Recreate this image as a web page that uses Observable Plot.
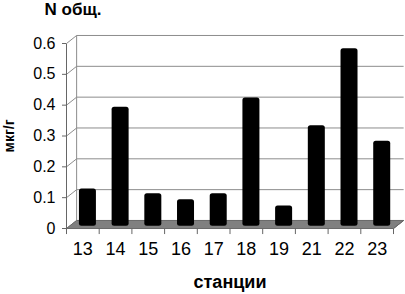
<!DOCTYPE html>
<html>
<head>
<meta charset="utf-8">
<script src="https://cdn.jsdelivr.net/npm/d3@7"></script>
<script src="https://cdn.jsdelivr.net/npm/@observablehq/plot@0.6"></script>
<style>
  html, body { margin: 0; padding: 0; background: #fff; }
  #chart svg { display: block; }
</style>
</head>
<body>
<div id="chart"></div>
<script>
const stations = ["13", "14", "15", "16", "17", "18", "19", "21", "22", "23"];
const values = [0.115, 0.38, 0.10, 0.08, 0.10, 0.41, 0.06, 0.32, 0.57, 0.27];
const yTicks = [0, 0.1, 0.2, 0.3, 0.4, 0.5, 0.6];
const title = "N общ.";
const yTitle = "мкг/г";
const xTitle = "станции";

// 3D depth offset expressed in data units (x: categories, y: value)
const DX = 0.31;
const DY = 0.026;
const n = stations.length;

const bars = stations.map((s, i) => ({i, station: s, value: values[i]}));
const floor = [
  {x: 0, y: 0}, {x: n, y: 0}, {x: n + DX, y: DY}, {x: DX, y: DY}, {x: 0, y: 0}
];
const boundaries = d3.range(n + 1);

const chart = Plot.plot({
  width: 405,
  height: 294,
  marginLeft: 66,
  marginRight: 12,
  marginTop: 43,
  marginBottom: 66,
  style: {fontFamily: "'Liberation Sans', Arial, sans-serif", color: "#000", background: "#fff"},
  x: {type: "linear", domain: [0, n]},
  y: {domain: [0, 0.6]},
  marks: [
    // back wall gridlines
    Plot.link(yTicks, {x1: DX, x2: n + DX, y1: d => d + DY, y2: d => d + DY, stroke: "#8c8c8c", strokeWidth: 1}),
    // back wall left edge
    Plot.link([0], {x1: DX, x2: DX, y1: DY, y2: 0.6 + DY, stroke: "#8c8c8c"}),
    // side wall diagonals
    Plot.link(yTicks, {x1: 0, y1: d => d, x2: DX, y2: d => d + DY, stroke: "#8c8c8c"}),
    // floor
    Plot.line(floor, {x: "x", y: "y", fill: "#808080", stroke: "#6a6a6a", strokeWidth: 1}),
    // front y axis line
    Plot.link([0], {x1: 0, x2: 0, y1: 0, y2: 0.6, stroke: "#666"}),
    // category boundary ticks
    Plot.link(boundaries, {x1: d => d, x2: d => d, y1: 0, y2: -0.018, stroke: "#666"}),
    Plot.link([n], {x1: n, x2: n + DX, y1: 0, y2: DY, stroke: "#666"}),
    // bars
    Plot.rect(bars, {
      x1: d => d.i + 0.24 + DX / 2,
      x2: d => d.i + 0.76 + DX / 2,
      y1: DY / 2 - 0.006,
      y2: d => d.value + DY / 2,
      fill: "#000",
      rx: 2.5
    }),
    Plot.axisY({ticks: yTicks, tickSize: 4, tickPadding: 7, fontSize: 16, stroke: "#666",
      tickFormat: d => d === 0 ? "0" : d.toFixed(1), label: null}),
    Plot.axisX({ticks: d3.range(n).map(i => i + 0.5), tickSize: 0, tickPadding: 14, fontSize: 18,
      tickFormat: d => stations[Math.floor(d)], label: null}),
    Plot.text([title], {frameAnchor: "top-left", dx: -22, dy: -34, textAnchor: "start",
      lineAnchor: "middle", fontWeight: "bold", fontSize: 17}),
    Plot.text([yTitle], {frameAnchor: "left", dx: -57, rotate: -90, textAnchor: "middle",
      lineAnchor: "middle", fontWeight: "bold", fontSize: 14}),
    Plot.text([xTitle], {frameAnchor: "bottom", dy: 54, lineAnchor: "middle",
      fontWeight: "bold", fontSize: 18})
  ]
});
document.getElementById("chart").appendChild(chart);
</script>
</body>
</html>
